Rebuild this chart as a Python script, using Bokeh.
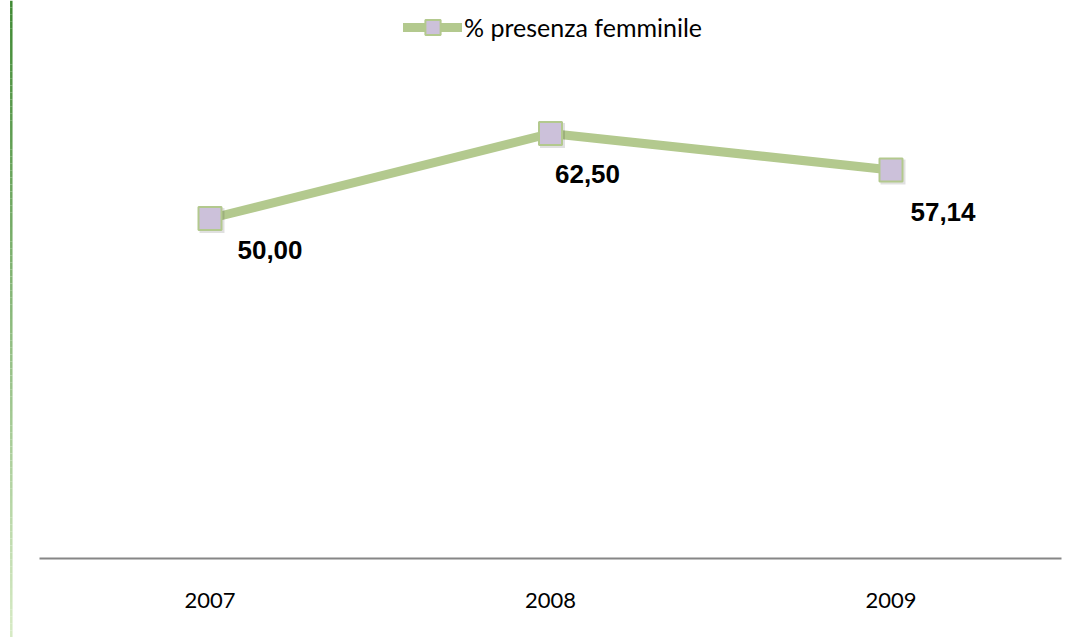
from bokeh.plotting import figure
from bokeh.models import ColumnDataSource, Range1d, Legend, LegendItem, FixedTicker
from bokeh.core.properties import value
from bokeh.transform import dodge
from bokeh.embed import file_html
from bokeh.resources import INLINE

# ---- data ----
years = ["2007", "2008", "2009"]
presenza_femminile = [50.00, 62.50, 57.14]
series_name = "% presenza femminile"

# ---- styling / layout ----
W, H = 1080, 637
LINE_COLOR = "#b3c98e"
MARKER_FILL = "#ccc1da"
label_dx = [60, 37, 52]
label_dy = [31, 40, 42]

xs = list(range(len(years)))
labels = [f"{v:.2f}".replace(".", ",") for v in presenza_femminile]

px_per_cat = 340.5
first_cx = 209.5
x_start = -first_cx / px_per_cat
x_end = (len(years) - 1) + (W - (first_cx + px_per_cat * (len(years) - 1))) / px_per_cat
px_per_unit = 6.8
zero_py = 558
y_end = zero_py / px_per_unit
y_start = -(H - zero_py) / px_per_unit

p = figure(width=W, height=H, output_backend="svg", toolbar_location=None,
           x_range=Range1d(x_start, x_end), y_range=Range1d(y_start, y_end),
           min_border=0, min_border_left=0, min_border_right=0,
           min_border_top=0, min_border_bottom=0, y_axis_location=None)
p.outline_line_color = None
p.background_fill_color = "white"
p.border_fill_color = "white"
p.xgrid.visible = False
p.ygrid.visible = False

# x axis drawn at y=0 inside the plot
ax = p.xaxis[0]
ax.fixed_location = 0
ax.bounds = (-0.5, len(years) - 0.5)
ax.ticker = FixedTicker(ticks=xs)
ax.major_label_overrides = {i: y for i, y in zip(xs, years)}
ax.axis_line_color = "#868686"
ax.axis_line_width = 2
ax.major_tick_line_color = None
ax.minor_tick_line_color = None
ax.major_tick_out = 0
ax.major_tick_in = 0
ax.major_label_standoff = 34
ax.major_label_text_font = "Lato"
ax.major_label_text_font_size = "22px"
ax.major_label_text_color = "#000000"

# left decorative border (gradient green)
n_seg = 90
bx = x_start + 10.8 / px_per_cat
seg_y0, seg_y1, seg_c = [], [], []
c_top = (64, 138, 52)
c_bot = (214, 234, 196)
for i in range(n_seg):
    t = i / (n_seg - 1)
    y0 = y_end - (y_end - y_start) * i / n_seg
    y1 = y_end - (y_end - y_start) * (i + 1) / n_seg
    c = tuple(int(round(c_top[k] + (c_bot[k] - c_top[k]) * t)) for k in range(3))
    seg_y0.append(y0)
    seg_y1.append(y1)
    seg_c.append("#%02x%02x%02x" % c)
p.segment(x0=[bx] * n_seg, x1=[bx] * n_seg, y0=seg_y0, y1=seg_y1,
          line_color=seg_c, line_width=2.5)

src = ColumnDataSource(dict(x=xs, y=presenza_femminile, label=labels,
                            dx=label_dx, dy=label_dy))

line_r = p.line("x", "y", source=src, line_color=LINE_COLOR, line_width=9,
                line_cap="round", line_join="round")
# faint shadow
p.scatter(dodge("x", 2 / px_per_cat), dodge("y", -2 / px_per_unit), source=src,
          marker="square", size=25, fill_color="#000000", fill_alpha=0.12,
          line_color=None)
mark_r = p.scatter("x", "y", source=src, marker="square", size=23,
                   fill_color=MARKER_FILL, line_color=LINE_COLOR, line_width=2)

p.text("x", "y", text="label", source=src, x_offset="dx", y_offset="dy",
       text_font=value("Liberation Sans"), text_font_style="bold",
       text_font_size="26px", text_color="#000000",
       text_align="center", text_baseline="middle")

legend = Legend(items=[LegendItem(label=series_name, renderers=[line_r, mark_r])],
                location=(403, H - 46), orientation="horizontal",
                glyph_width=59, glyph_height=38, label_standoff=2,
                padding=0, margin=0, spacing=0,
                label_text_font="Lato", label_text_font_size="25px",
                label_text_color="#000000",
                border_line_color=None, background_fill_alpha=0)
p.add_layout(legend, "center")

open("out.html", "w").write(file_html(p, INLINE))
